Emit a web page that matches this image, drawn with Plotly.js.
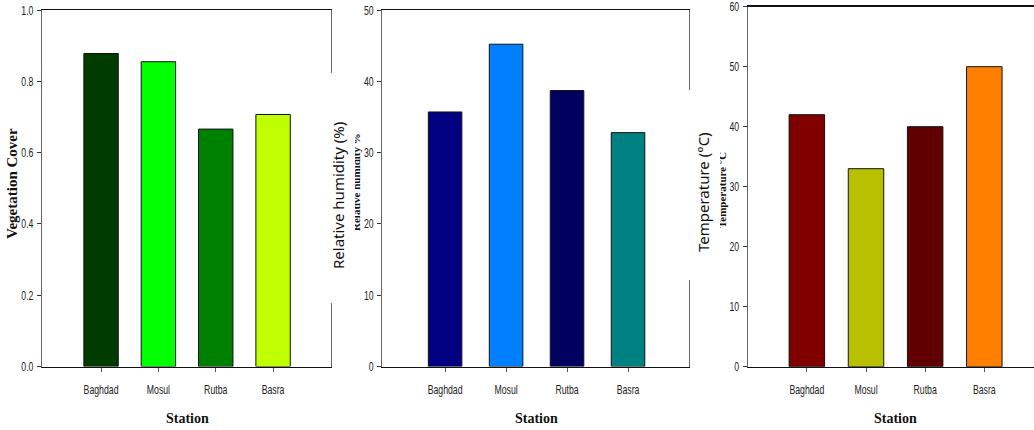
<!DOCTYPE html>
<html>
<head>
<meta charset="utf-8">
<script src="https://cdn.plot.ly/plotly-3.0.1.min.js"></script>
<style>html,body{margin:0;padding:0;background:#fff;} #chart{width:1034px;height:430px;}</style>
</head>
<body>
<div id="chart"></div>
<script>
// ---- data ----
const stations = ['Baghdad', 'Mosul', 'Rutba', 'Basra'];
const vegetationCover = [0.878, 0.855, 0.666, 0.707];
const relativeHumidity = [35.7, 45.2, 38.7, 32.8];
const temperature = [42, 33, 40, 50];
const vegColors = ['#003c00', '#00ff00', '#008000', '#c0ff00'];
const humColors = ['#000080', '#0080ff', '#000060', '#008080'];
const tempColors = ['#800000', '#b8c000', '#600000', '#ff8000'];
const yTitles = ['Vegetation Cover', 'Relative humidity (%)', 'Temperature (°C)'];
const ghostTitles = ['Relative humidity %', 'Temperature °C'];
const xTitle = 'Station';

const W = 1034, H = 430;
const px = v => v / W;
const py = v => (H - v) / H;

const tickFont = {family: 'Liberation Sans, Arial, sans-serif', size: 13, color: '#222'};
const barLine = {color: '#111', width: 1};

const traces = [
  {type: 'bar', x: stations, y: vegetationCover, xaxis: 'x', yaxis: 'y', width: 0.6,
   marker: {color: vegColors, line: barLine}, hoverinfo: 'x+y'},
  {type: 'bar', x: stations, y: relativeHumidity, xaxis: 'x2', yaxis: 'y2', width: 0.55,
   marker: {color: humColors, line: barLine}, hoverinfo: 'x+y'},
  {type: 'bar', x: stations, y: temperature, xaxis: 'x3', yaxis: 'y3', width: 0.6,
   marker: {color: tempColors, line: barLine}, hoverinfo: 'x+y'}
];

function xax(d0, d1, r, anchor) {
  return {domain: [px(d0), px(d1)], range: r, anchor: anchor, type: 'category',
    showline: true, linecolor: '#111', linewidth: 1.5, mirror: true,
    ticks: 'outside', ticklen: 4, tickcolor: '#555', tickwidth: 1,
    tickfont: tickFont, ticklabelstandoff: 6, showgrid: false, zeroline: false, fixedrange: true};
}
function yax(top, bottom, r, dt, fmt, anchor, mirror) {
  return {domain: [py(bottom), py(top)], range: r, dtick: dt, tick0: 0, tickformat: fmt, anchor: anchor,
    showline: true, linecolor: '#666', linewidth: 1, mirror: mirror,
    ticks: 'outside', ticklen: 4, tickcolor: '#333', tickwidth: 1, ticklabeloverflow: 'allow',
    tickfont: tickFont, ticklabelstandoff: 1, showgrid: false, zeroline: false, fixedrange: true};
}

const ann = [];
// Station titles
[[187, 418], [536, 418], [895, 418]].forEach(p => ann.push({
  xref: 'paper', yref: 'paper', x: px(p[0]), y: py(p[1]), text: xTitle, showarrow: false,
  font: {family: 'Liberation Serif, Times New Roman, serif', size: 14, color: '#111', weight: 'bold'},
  xanchor: 'center', yanchor: 'middle'}));
// Vegetation cover title
ann.push({xref: 'paper', yref: 'paper', x: px(12), y: py(184), text: yTitles[0], textangle: -90, showarrow: false,
  font: {family: 'Liberation Serif, Times New Roman, serif', size: 15, color: '#111', weight: 'bold'},
  xanchor: 'center', yanchor: 'middle'});
// ghost titles (partly hidden)
ann.push({xref: 'paper', yref: 'paper', x: px(356), y: py(182), text: ghostTitles[0], textangle: -90, showarrow: false,
  font: {family: 'Liberation Serif, Times New Roman, serif', size: 11, color: '#111', weight: 'bold'},
  xanchor: 'center', yanchor: 'middle'});
ann.push({xref: 'paper', yref: 'paper', x: px(722), y: py(190), text: ghostTitles[1], textangle: -90, showarrow: false,
  font: {family: 'Liberation Serif, Times New Roman, serif', size: 11, color: '#111', weight: 'bold'},
  xanchor: 'center', yanchor: 'middle'});
// white boxes behind the overlaid titles
ann.push({xref: 'paper', yref: 'paper', x: px(338), y: py(188), text: ' ', showarrow: false, width: 34, height: 230,
  bgcolor: '#fff', borderpad: 0, borderwidth: 0, xanchor: 'center', yanchor: 'middle'});
ann.push({xref: 'paper', yref: 'paper', x: px(703), y: py(185), text: ' ', showarrow: false, width: 34, height: 190,
  bgcolor: '#fff', borderpad: 0, borderwidth: 0, xanchor: 'center', yanchor: 'middle'});
// overlaid titles
ann.push({xref: 'paper', yref: 'paper', x: px(338), y: py(196), text: yTitles[1], textangle: -90, showarrow: false,
  font: {family: 'Noto Sans, Open Sans, sans-serif', size: 15, color: '#111'}, xanchor: 'center', yanchor: 'middle'});
ann.push({xref: 'paper', yref: 'paper', x: px(703), y: py(192), text: yTitles[2], textangle: -90, showarrow: false,
  font: {family: 'Noto Sans, Open Sans, sans-serif', size: 15, color: '#111'}, xanchor: 'center', yanchor: 'middle'});

const layout = {
  width: W, height: H, margin: {l: 0, r: 0, t: 0, b: 0}, showlegend: false,
  paper_bgcolor: '#fff', plot_bgcolor: 'rgba(0,0,0,0)', bargap: 0.4,
  xaxis: xax(42, 331, [-1.03, 4.01], 'y'),
  yaxis: yax(10, 366.5, [0, 1.0001], 0.2, '.1f', 'x', true),
  xaxis2: xax(382.3, 689, [-1.03, 4.0], 'y2'),
  yaxis2: yax(10, 366.5, [0, 50.001], 10, 'd', 'x2', true),
  xaxis3: xax(747.7, 1034, [-1.0, 3.84], 'y3'),
  yaxis3: yax(6.7, 366.7, [0, 60.001], 10, 'd', 'x3', false),
  annotations: ann
};

// condense tick labels to mimic a narrow typeface
function condense(gd) {
  gd.querySelectorAll('.xaxislayer-above text, .yaxislayer-above text').forEach(t => {
    const w = t.getComputedTextLength();
    if (w > 0) {
      t.setAttribute('textLength', (w * 0.67).toFixed(2));
      t.setAttribute('lengthAdjust', 'spacingAndGlyphs');
    }
  });
}

Plotly.newPlot('chart', traces, layout, {displayModeBar: false, staticPlot: true}).then(condense);
</script>
</body>
</html>
